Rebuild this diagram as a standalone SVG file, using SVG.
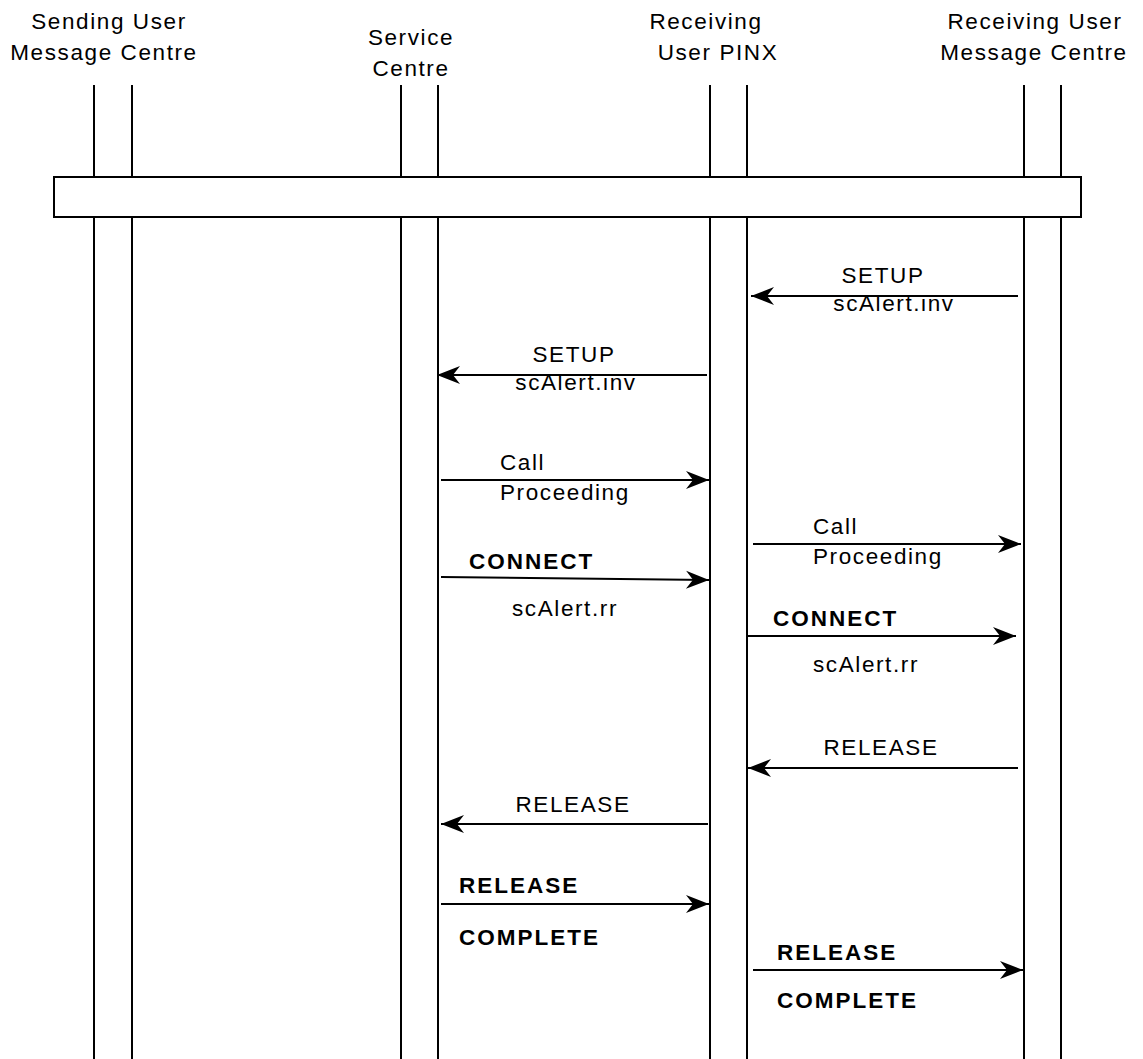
<svg xmlns="http://www.w3.org/2000/svg" width="1143" height="1059" viewBox="0 0 1143 1059">
<style>
text{font-family:"Liberation Sans",Arial,sans-serif;font-size:22.5px;fill:#000;letter-spacing:1.6px}
.b{font-weight:bold;letter-spacing:2px}
.m{text-anchor:middle}
.life{stroke:#000;stroke-width:2;fill:none}
.msg{stroke:#000;stroke-width:2;fill:none;marker-end:url(#ah)}
</style>
<defs>
<marker id="ah" markerUnits="userSpaceOnUse" viewBox="-25 -10 27 20" refX="0" refY="0" markerWidth="27" markerHeight="20" orient="auto">
<path d="M0,0 L-23,-9 L-16,0 L-23,9 Z" fill="#000"/>
</marker>
</defs>
<rect width="1143" height="1059" fill="#fff"/>
<g id="sending-umc">
<text class="m" x="109" y="29">Sending User</text>
<text class="m" x="104" y="60">Message Centre</text>
<line class="life" x1="94" y1="85" x2="94" y2="1059"/>
<line class="life" x1="132" y1="85" x2="132" y2="1059"/>
</g>
<g id="service-centre">
<text class="m" x="411" y="45">Service</text>
<text class="m" x="411" y="76">Centre</text>
<line class="life" x1="401" y1="85" x2="401" y2="1059"/>
<line class="life" x1="438" y1="85" x2="438" y2="1059"/>
</g>
<g id="receiving-pinx">
<text class="m" x="706" y="29">Receiving</text>
<text class="m" x="718" y="60">User PINX</text>
<line class="life" x1="710" y1="85" x2="710" y2="1059"/>
<line class="life" x1="747" y1="85" x2="747" y2="1059"/>
</g>
<g id="receiving-umc">
<text class="m" x="1035" y="29">Receiving User</text>
<text class="m" x="1034" y="60">Message Centre</text>
<line class="life" x1="1024" y1="85" x2="1024" y2="1059"/>
<line class="life" x1="1061" y1="85" x2="1061" y2="1059"/>
</g>
<g id="bar">
<rect x="54" y="177" width="1027" height="40" fill="#fff" stroke="#000" stroke-width="2"/>
</g>
<g id="connectors">
<line class="msg" x1="1018" y1="296" x2="751" y2="296"/>
<line class="msg" x1="707" y1="375" x2="437" y2="375"/>
<line class="msg" x1="441" y1="480" x2="709" y2="480"/>
<line class="msg" x1="753" y1="544" x2="1021" y2="544"/>
<line class="msg" x1="441" y1="577" x2="709" y2="580"/>
<line class="msg" x1="748" y1="636" x2="1016" y2="636"/>
<line class="msg" x1="1018" y1="768" x2="748" y2="768"/>
<line class="msg" x1="708" y1="824" x2="441" y2="824"/>
<line class="msg" x1="441" y1="904" x2="709" y2="904"/>
<line class="msg" x1="753" y1="970" x2="1023" y2="970"/>
</g>
<g id="labels">
<text class="m" x="883" y="283">SETUP</text>
<text class="m" x="894" y="311">scAlert.inv</text>
<text class="m" x="574" y="362">SETUP</text>
<text class="m" x="576" y="390">scAlert.inv</text>
<text x="500" y="470">Call</text>
<text x="500" y="500">Proceeding</text>
<text x="813" y="534">Call</text>
<text x="813" y="564">Proceeding</text>
<text class="b" x="469" y="569">CONNECT</text>
<text class="m" x="565" y="616">scAlert.rr</text>
<text class="b" x="773" y="626">CONNECT</text>
<text x="813" y="672">scAlert.rr</text>
<text class="m" x="881" y="755">RELEASE</text>
<text class="m" x="573" y="812">RELEASE</text>
<text class="b" x="459" y="893">RELEASE</text>
<text class="b" x="459" y="945">COMPLETE</text>
<text class="b" x="777" y="960">RELEASE</text>
<text class="b" x="777" y="1008">COMPLETE</text>
</g>
</svg>
